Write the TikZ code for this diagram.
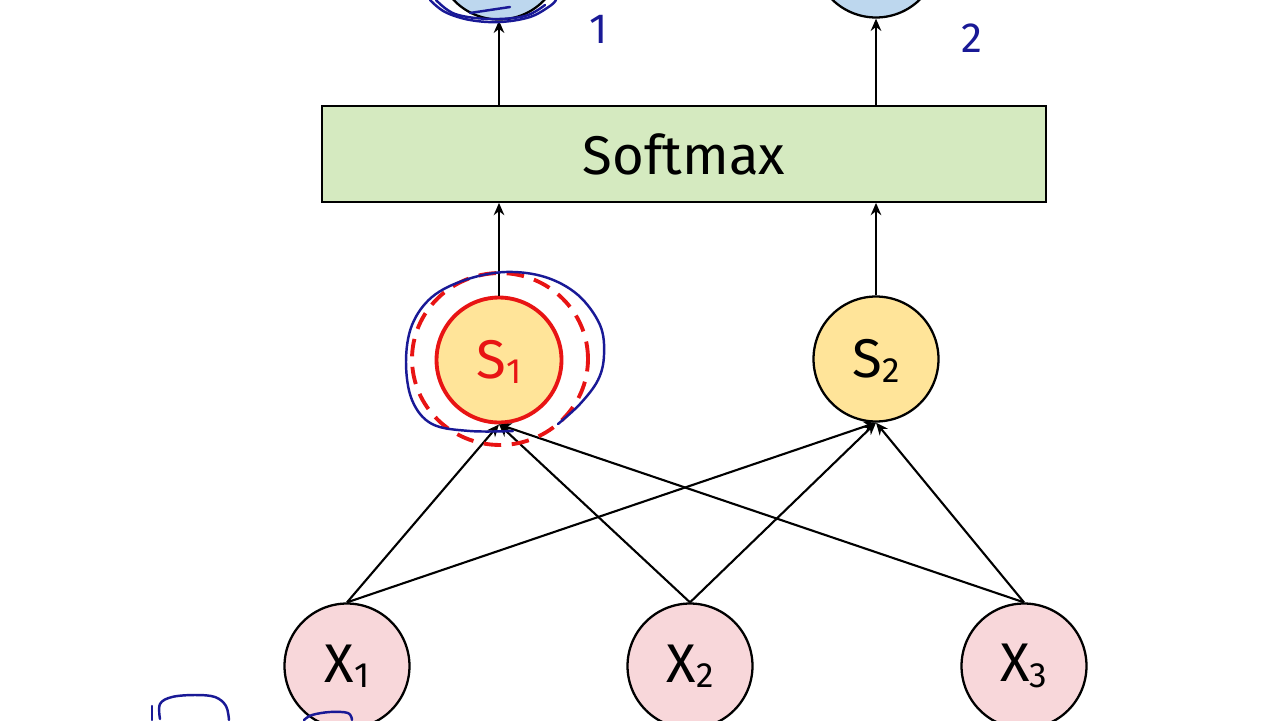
\documentclass[tikz,border=0pt]{standalone}
\usepackage{fontspec}
\setmainfont{Fira Sans}
\usetikzlibrary{arrows.meta}
\definecolor{inkblue}{RGB}{25,25,150}
\definecolor{topfill}{RGB}{189,215,238}
\definecolor{smfill}{RGB}{213,234,192}
\definecolor{sfill}{RGB}{255,228,153}
\definecolor{xfill}{RGB}{248,215,218}
\definecolor{redline}{RGB}{232,20,20}
\tikzset{
  neuron/.style={circle, draw=black, line width=1.3pt, minimum size=2.5cm, inner sep=0pt},
  topnode/.style={neuron, fill=topfill},
  snode/.style={neuron, fill=sfill},
  xnode/.style={neuron, fill=xfill},
  smbox/.style={draw=black, line width=1pt, fill=smfill, minimum width=14.48cm, minimum height=1.92cm, inner sep=0pt, font=\fontsize{31}{34}\selectfont},
  arr/.style={line width=1.2pt, -{Stealth[length=7pt,width=6pt]}},
  ink/.style={draw=inkblue, line width=1.4pt, line cap=round, line join=round},
  inktext/.style={text=inkblue, font=\fontsize{24}{26}\selectfont},
  lab/.style={font=\fontsize{31}{32}\selectfont},
}
\newcommand{\lbl}[2]{#1\raisebox{-0.1em}{\fontsize{20}{21}\selectfont #2}}
\begin{document}
\begin{tikzpicture}[x=0.02cm,y=-0.02cm]
\useasboundingbox (0,0) rectangle (1280,720);
\begin{scope}
\clip (0,0) rectangle (1280,720);
% top circles
\node[topnode] (o1) at (499,-43) {};
\node[topnode] (o2) at (876,-45) {};
% softmax
\node[smbox] (sm) at (684,154) {Softmax};
% S nodes
\node[snode, draw=redline, line width=2.2pt] (s1) at (499,360) {};
\node[text=redline, lab] at (499,362) {\lbl{S}{1}};
\node[snode] (s2) at (876,359) {};
\node[lab] at (876,361) {\lbl{S}{2}};
% X nodes
\node[xnode] (x1) at (347,666) {};
\node[lab] at (347,666) {\lbl{X}{1}};
\node[xnode] (x2) at (690,666) {};
\node[lab] at (690,666) {\lbl{X}{2}};
\node[xnode] (x3) at (1024,666) {};
\node[lab] at (1024,666) {\lbl{X}{3}};
% connectors
\draw[arr] (sm.north -| o1) -- (o1.south);
\draw[arr] (sm.north -| o2) -- (o2.south);
\draw[arr] (s1.north) -- (sm.south -| s1);
\draw[arr] (s2.north) -- (sm.south -| s2);
\foreach \x in {x1,x2,x3}{
  \draw[arr] (\x.north) -- (s1.south);
  \draw[arr] (\x.north) -- (s2.south);
}
% red dashed circle
\draw[redline, line width=2.2pt, dash pattern=on 10pt off 6pt] (500,359) circle [x radius=1.76cm, y radius=1.72cm];
% blue loop around S1
\draw[ink] plot[smooth, tension=0.6] coordinates {(513,431) (470,431) (432,424) (412,400) (406,362) (412,325) (432,297) (465,280) (505,272) (545,277) (578,295) (600,325) (604,355) (598,380) (580,404) (558,424)};
% blue scribbles around top circle
\draw[ink] plot[smooth, tension=0.6] coordinates {(430,0) (445,12) (470,20) (500,22) (530,17) (550,6) (556,0)};
\draw[ink] plot[smooth, tension=0.6] coordinates {(436,0) (455,14) (490,19) (525,16) (545,5)};
\draw[ink] (470,13) -- (510,7);
% handwritten labels
\node[inktext] (n1) at (599,29) {1};
\node[inktext] (n2) at (972,38) {2};
% bottom-left scribbles
\draw[ink] (152,720) -- (152,706);
\draw[ink] plot[smooth, tension=0.6] coordinates {(160,719) (160,704) (172,697) (195,695) (215,697) (226,706) (229,720)};
\draw[ink] plot[smooth, tension=0.6] coordinates {(304,720) (312,715) (330,712) (348,713) (352,720)};
\end{scope}
\end{tikzpicture}
\end{document}
